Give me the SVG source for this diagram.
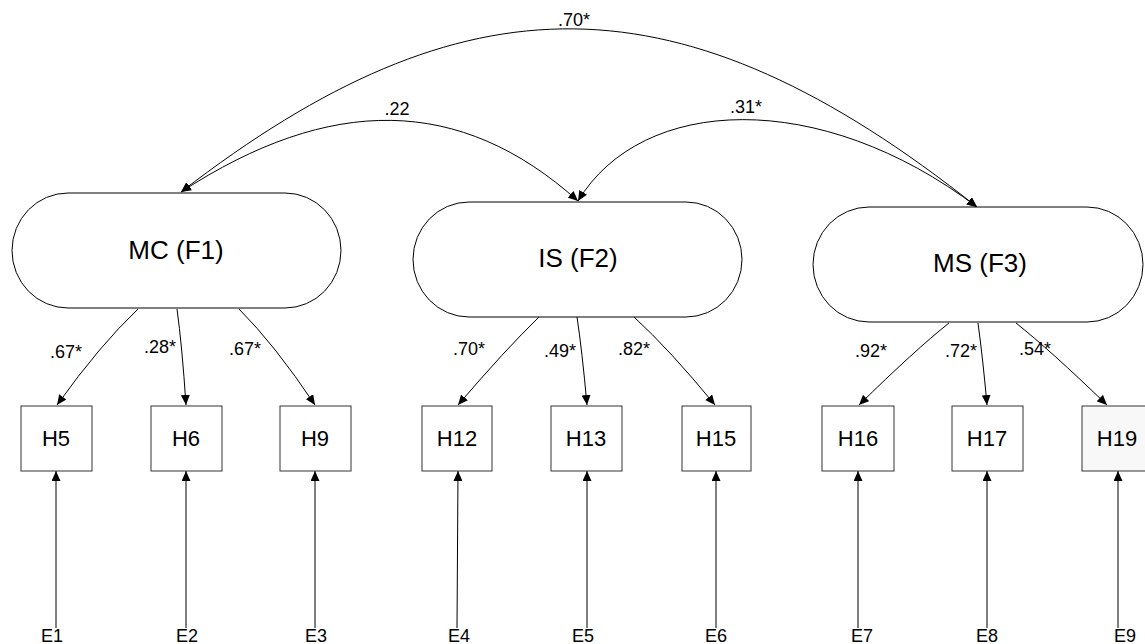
<svg xmlns="http://www.w3.org/2000/svg" width="1145" height="644" viewBox="0 0 1145 644">
<defs>
<marker id="ah" markerUnits="userSpaceOnUse" markerWidth="10" markerHeight="9" refX="10" refY="4.5" orient="auto-start-reverse" viewBox="0 0 10 9">
<path d="M0,0 L10,4.5 L0,9 z" fill="#000"/>
</marker>
<style>
.fac{fill:#fff;stroke:#000;stroke-width:1}
.box{fill:#fff;stroke:#333;stroke-width:1}
.ftxt{font-family:"Liberation Sans",Arial,sans-serif;font-size:26px;fill:#000;text-anchor:middle}
.btxt{font-family:"Liberation Sans",Arial,sans-serif;font-size:22px;fill:#000;text-anchor:middle}
.lbl{font-family:"Liberation Sans",Arial,sans-serif;font-size:18px;fill:#000;text-anchor:middle}
.con{fill:none;stroke:#000;stroke-width:1}
.arr{marker-end:url(#ah)}
.dbl{marker-start:url(#ah);marker-end:url(#ah)}
</style>
</defs>
<rect width="1145" height="644" fill="#fff"/>

<g id="connectors">
<path class="con dbl" d="M181,192 C465,-27 680,-29 977,207"/>
<path class="con dbl" d="M181,192 C330,95 460,95 578,201"/>
<path class="con dbl" d="M578,201 C642,95 820,88 977,207"/>

<path class="con arr" d="M138,309 Q100,345 57,405"/>
<path class="con arr" d="M177,309 Q182,345 186,405"/>
<path class="con arr" d="M239,309 Q275,345 315,405"/>
<path class="con arr" d="M539,317 Q505,350 458,405"/>
<path class="con arr" d="M577,317 Q582,350 587,405"/>
<path class="con arr" d="M634,317 Q670,350 715,405"/>
<path class="con arr" d="M949,323 Q915,350 859,405"/>
<path class="con arr" d="M978,323 Q983,360 987,405"/>
<path class="con arr" d="M1016,323 Q1050,350 1107,405"/>

<path class="con arr" d="M56,628 L56,471"/>
<path class="con arr" d="M186,628 L186,471"/>
<path class="con arr" d="M315,628 L315,471"/>
<path class="con arr" d="M457,628 L458,471"/>
<path class="con arr" d="M587,628 L587,471"/>
<path class="con arr" d="M716,628 L716,471"/>
<path class="con arr" d="M858,628 L858,471"/>
<path class="con arr" d="M987,628 L987,471"/>
<path class="con arr" d="M1118,628 L1118,471"/>

<text class="lbl" x="574" y="26">.70*</text>
<text class="lbl" x="397" y="115">.22</text>
<text class="lbl" x="746" y="113">.31*</text>
<text class="lbl" x="66" y="358">.67*</text>
<text class="lbl" x="160" y="353">.28*</text>
<text class="lbl" x="245" y="355">.67*</text>
<text class="lbl" x="469" y="355">.70*</text>
<text class="lbl" x="560" y="357">.49*</text>
<text class="lbl" x="634" y="355">.82*</text>
<text class="lbl" x="871" y="357">.92*</text>
<text class="lbl" x="961" y="357">.72*</text>
<text class="lbl" x="1035" y="355">.54*</text>
</g>

<g id="F1"><rect class="fac" x="12" y="193" width="329" height="115" rx="56" ry="57.5"/><text class="ftxt" x="176" y="259">MC (F1)</text></g>
<g id="F2"><rect class="fac" x="413" y="202" width="329" height="115" rx="56" ry="57.5"/><text class="ftxt" x="578" y="267">IS (F2)</text></g>
<g id="F3"><rect class="fac" x="813" y="207" width="330" height="115" rx="56" ry="57.5"/><text class="ftxt" x="980" y="272">MS (F3)</text></g>

<g id="H5"><rect class="box" x="21" y="406" width="71" height="65"/><text class="btxt" x="56" y="446">H5</text></g>
<g id="H6"><rect class="box" x="151" y="406" width="71" height="65"/><text class="btxt" x="186" y="446">H6</text></g>
<g id="H9"><rect class="box" x="280" y="406" width="71" height="65"/><text class="btxt" x="315" y="446">H9</text></g>
<g id="H12"><rect class="box" x="422" y="406" width="70" height="65"/><text class="btxt" x="457" y="446">H12</text></g>
<g id="H13"><rect class="box" x="551" y="406" width="71" height="65"/><text class="btxt" x="586" y="446">H13</text></g>
<g id="H15"><rect class="box" x="682" y="406" width="69" height="65"/><text class="btxt" x="716" y="446">H15</text></g>
<g id="H16"><rect class="box" x="822" y="406" width="72" height="65"/><text class="btxt" x="858" y="446">H16</text></g>
<g id="H17"><rect class="box" x="952" y="406" width="71" height="65"/><text class="btxt" x="987" y="446">H17</text></g>
<g id="H19"><rect class="box" x="1082" y="406" width="71" height="65" style="fill:#f8f8f8"/><text class="btxt" x="1117" y="446">H19</text></g>

<g id="E1"><text class="lbl" x="52" y="642">E1</text></g>
<g id="E2"><text class="lbl" x="187" y="642">E2</text></g>
<g id="E3"><text class="lbl" x="316" y="642">E3</text></g>
<g id="E4"><text class="lbl" x="459" y="642">E4</text></g>
<g id="E5"><text class="lbl" x="583" y="642">E5</text></g>
<g id="E6"><text class="lbl" x="716" y="642">E6</text></g>
<g id="E7"><text class="lbl" x="862" y="642">E7</text></g>
<g id="E8"><text class="lbl" x="987" y="642">E8</text></g>
<g id="E9"><text class="lbl" x="1125" y="642">E9</text></g>
</svg>
